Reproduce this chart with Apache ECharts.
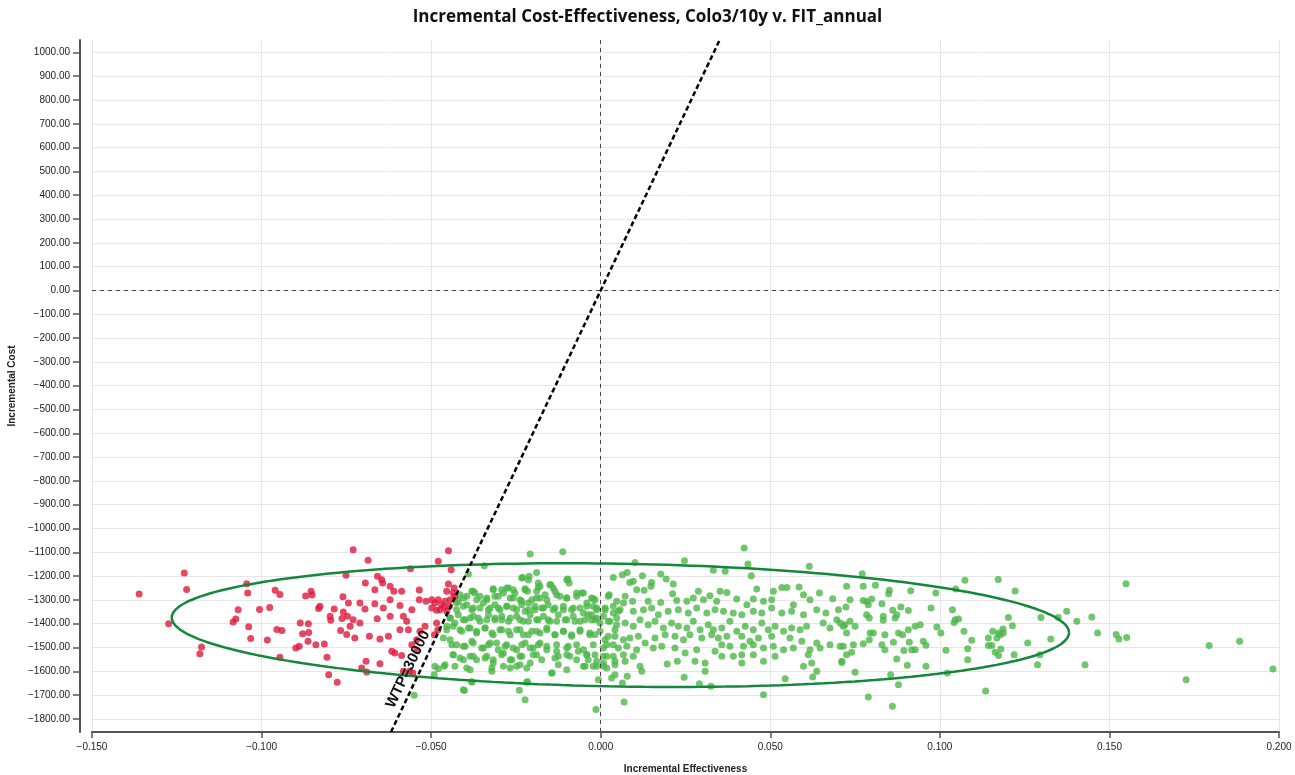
<!DOCTYPE html>
<html>
<head>
<meta charset="utf-8">
<title>Incremental Cost-Effectiveness</title>
<script src="https://cdn.jsdelivr.net/npm/echarts@6.0.0/dist/echarts.min.js"></script>
<style>
html, body { margin: 0; padding: 0; background: #fff; }
#chart { width: 1295px; height: 775px; }
</style>
</head>
<body>
<div id="chart"></div>
<script>
const titleText = 'Incremental Cost-Effectiveness, Colo3/10y v. FIT_annual'
const wtp = 30000
const xRange = [-0.15, 0.2]
const yRange = [-1855, 1052]
const yTicks = [-1800, -1700, -1600, -1500, -1400, -1300, -1200, -1100, -1000, -900, -800, -700, -600, -500, -400, -300, -200, -100, 0, 100, 200, 300, 400, 500, 600, 700, 800, 900, 1000]

// confidence ellipse: centre plus its two conjugate half-axes, in data units
const ellipseCenter = [0.0058, -1406]
const ellipseMajor = [0.1323, -31.5]
const ellipseMinor = [0, 258]

// simulations left of the WTP line
const redPoints = [
  [-0.1361,-1275],[-0.1228,-1187],[-0.1221,-1256],[-0.1274,-1400],[-0.1177,-1498],[-0.1182,-1526],[-0.1044,-1232],[-0.1041,-1271],
  [-0.1069,-1341],[-0.1076,-1380],[-0.1084,-1393],[-0.1038,-1413],[-0.1032,-1462],[-0.1006,-1340],[-0.0976,-1332],[-0.0983,-1468],
  [-0.0955,-1424],[-0.0940,-1429],[-0.0960,-1260],[-0.0946,-1277],[-0.0946,-1541],[-0.0899,-1502],[-0.0889,-1495],[-0.0886,-1397],
  [-0.0879,-1442],[-0.0862,-1400],[-0.0861,-1437],[-0.0863,-1474],[-0.0870,-1284],[-0.0854,-1264],[-0.0851,-1280],[-0.0832,-1336],
  [-0.0828,-1327],[-0.0840,-1488],[-0.0815,-1485],[-0.0807,-1541],[-0.0802,-1615],[-0.0777,-1646],[-0.0798,-1369],[-0.0796,-1386],
  [-0.0786,-1338],[-0.0760,-1287],[-0.0751,-1196],[-0.0767,-1429],[-0.0749,-1445],[-0.0759,-1351],[-0.0763,-1378],[-0.0744,-1313],
  [-0.0747,-1369],[-0.0730,-1089],[-0.0686,-1134],[-0.0449,-1094],[-0.0479,-1138],[-0.0561,-1169],[-0.0441,-1173],[-0.0658,-1201],
  [-0.0646,-1215],[-0.0643,-1229],[-0.0694,-1229],[-0.0621,-1243],[-0.0610,-1264],[-0.0666,-1257],[-0.0587,-1264],[-0.0535,-1259],
  [-0.0449,-1233],[-0.0454,-1264],[-0.0432,-1250],[-0.0710,-1313],[-0.0666,-1316],[-0.0621,-1299],[-0.0641,-1334],[-0.0695,-1338],
  [-0.0592,-1324],[-0.0557,-1341],[-0.0535,-1299],[-0.0515,-1306],[-0.0498,-1299],[-0.0489,-1313],[-0.0479,-1299],[-0.0469,-1320],
  [-0.0459,-1306],[-0.0444,-1299],[-0.0498,-1334],[-0.0484,-1344],[-0.0474,-1341],[-0.0462,-1330],[-0.0454,-1348],[-0.0446,-1327],
  [-0.0430,-1285],[-0.0435,-1271],[-0.0730,-1383],[-0.0739,-1411],[-0.0710,-1397],[-0.0659,-1379],[-0.0621,-1369],[-0.0582,-1369],
  [-0.0572,-1390],[-0.0592,-1425],[-0.0567,-1425],[-0.0533,-1432],[-0.0518,-1411],[-0.0484,-1397],[-0.0480,-1425],[-0.0725,-1460],
  [-0.0682,-1453],[-0.0651,-1464],[-0.0626,-1453],[-0.0616,-1516],[-0.0607,-1523],[-0.0587,-1534],[-0.0557,-1488],[-0.0543,-1467],
  [-0.0543,-1512],[-0.0490,-1446],[-0.0692,-1558],[-0.0651,-1568],[-0.0705,-1586],[-0.0582,-1600],[-0.0554,-1607],[-0.0690,-1603],
  [-0.0564,-1600]
]

// simulations right of the WTP line
const greenPoints = [
  [-0.0208,-1107],[-0.0112,-1098],[-0.0343,-1157],[-0.0390,-1191],[-0.0189,-1185],[-0.0230,-1206],[-0.0211,-1201],[-0.0097,-1212],
  [-0.0093,-1229],[-0.0147,-1236],[-0.0140,-1250],[-0.0179,-1243],[-0.0223,-1257],[-0.0258,-1257],[-0.0277,-1250],[-0.0317,-1257],
  [-0.0376,-1264],[-0.0395,-1285],[-0.0366,-1299],[-0.0336,-1299],[-0.0312,-1285],[-0.0287,-1271],[-0.0258,-1292],[-0.0233,-1306],
  [-0.0213,-1313],[-0.0189,-1292],[-0.0159,-1299],[-0.0130,-1278],[-0.0100,-1292],[-0.0071,-1271],[-0.0056,-1271],[-0.0041,-1313],
  [-0.0022,-1327],[-0.0420,-1306],[-0.0405,-1327],[-0.0425,-1341],[-0.0380,-1341],[-0.0356,-1334],[-0.0331,-1341],[-0.0302,-1334],
  [-0.0277,-1327],[-0.0248,-1341],[-0.0223,-1348],[-0.0194,-1341],[-0.0169,-1334],[-0.0140,-1341],[-0.0110,-1341],[-0.0081,-1334],
  [-0.0051,-1355],[-0.0027,-1362],[-0.0444,-1376],[-0.0430,-1397],[-0.0405,-1383],[-0.0385,-1376],[-0.0361,-1376],[-0.0336,-1383],
  [-0.0312,-1376],[-0.0292,-1383],[-0.0267,-1376],[-0.0238,-1383],[-0.0213,-1390],[-0.0184,-1383],[-0.0155,-1383],[-0.0130,-1390],
  [-0.0100,-1383],[-0.0076,-1390],[-0.0046,-1383],[-0.0012,-1376],[-0.0454,-1411],[-0.0415,-1425],[-0.0390,-1418],[-0.0366,-1432],
  [-0.0341,-1418],[-0.0321,-1439],[-0.0297,-1425],[-0.0272,-1432],[-0.0248,-1425],[-0.0228,-1446],[-0.0203,-1432],[-0.0179,-1439],
  [-0.0159,-1425],[-0.0135,-1446],[-0.0110,-1432],[-0.0086,-1446],[-0.0061,-1432],[-0.0032,-1439],[-0.0444,-1467],[-0.0425,-1488],
  [-0.0400,-1495],[-0.0376,-1481],[-0.0351,-1502],[-0.0331,-1488],[-0.0307,-1481],[-0.0282,-1495],[-0.0258,-1502],[-0.0233,-1488],
  [-0.0208,-1502],[-0.0184,-1488],[-0.0159,-1495],[-0.0130,-1516],[-0.0096,-1495],[-0.0066,-1516],[-0.0041,-1530],[-0.0464,-1460],
  [-0.0435,-1530],[-0.0415,-1544],[-0.0385,-1537],[-0.0366,-1551],[-0.0336,-1537],[-0.0317,-1551],[-0.0292,-1530],[-0.0262,-1551],
  [-0.0233,-1537],[-0.0199,-1530],[-0.0174,-1551],[-0.0125,-1537],[-0.0091,-1537],[-0.0037,-1551],[-0.0489,-1579],[-0.0462,-1579],
  [-0.0430,-1579],[-0.0395,-1586],[-0.0321,-1586],[-0.0287,-1579],[-0.0248,-1579],[-0.0218,-1586],[-0.0144,-1607],[-0.0100,-1593],
  [-0.0046,-1579],[-0.0012,-1579],[-0.0491,-1614],[-0.0380,-1645],[-0.0218,-1646],[-0.0402,-1681],[-0.0240,-1680],[-0.0223,-1719],
  [-0.0550,-1701],[-0.0014,-1761],[-0.0479,-1589],
  [-0.0233,-1208],[-0.0213,-1216],[-0.0100,-1215],[-0.0150,-1236],[-0.0184,-1229],[-0.0184,-1248],[-0.0380,-1264],[-0.0371,-1271],
  [-0.0317,-1253],[-0.0292,-1257],[-0.0272,-1250],[-0.0253,-1271],[-0.0223,-1253],[-0.0216,-1264],[-0.0189,-1264],[-0.0164,-1278],
  [-0.0135,-1264],[-0.0120,-1285],[-0.0100,-1292],[-0.0071,-1285],[-0.0051,-1271],[-0.0027,-1292],[-0.0017,-1299],[0.0022,-1285],
  [-0.0179,-1292],[-0.0203,-1299],[-0.0238,-1299],[-0.0267,-1292],[-0.0302,-1285],[-0.0336,-1292],[-0.0356,-1285],[-0.0405,-1292],
  [-0.0415,-1278],[-0.0425,-1313],[-0.0395,-1320],[-0.0376,-1334],[-0.0346,-1313],[-0.0326,-1334],[-0.0312,-1320],[-0.0297,-1341],
  [-0.0277,-1327],[-0.0258,-1334],[-0.0233,-1320],[-0.0213,-1341],[-0.0194,-1327],[-0.0174,-1334],[-0.0155,-1320],[-0.0135,-1334],
  [-0.0110,-1327],[-0.0086,-1341],[-0.0061,-1334],[-0.0041,-1327],[-0.0012,-1341],[0.0013,-1334],[0.0037,-1327],[0.0052,-1348],
  [-0.0444,-1376],[-0.0420,-1362],[-0.0400,-1383],[-0.0376,-1369],[-0.0356,-1390],[-0.0331,-1362],[-0.0312,-1383],[-0.0292,-1369],
  [-0.0272,-1390],[-0.0248,-1369],[-0.0228,-1390],[-0.0208,-1362],[-0.0189,-1383],[-0.0169,-1369],[-0.0150,-1390],[-0.0125,-1362],
  [-0.0105,-1383],[-0.0081,-1369],[-0.0061,-1390],[-0.0037,-1362],[-0.0017,-1383],[0.0008,-1369],[0.0027,-1390],[0.0047,-1376],
  [-0.0454,-1425],[-0.0435,-1411],[-0.0410,-1432],[-0.0385,-1418],[-0.0366,-1439],[-0.0341,-1418],[-0.0317,-1446],[-0.0292,-1425],
  [-0.0267,-1446],[-0.0238,-1425],[-0.0213,-1446],[-0.0189,-1432],[-0.0159,-1418],[-0.0135,-1446],[-0.0110,-1432],[-0.0086,-1453],
  [-0.0061,-1425],[-0.0032,-1446],[-0.0002,-1432],[0.0022,-1453],[0.0042,-1425],
  [-0.0439,-1488],[-0.0405,-1495],[-0.0380,-1474],[-0.0346,-1502],[-0.0326,-1481],[-0.0302,-1509],[-0.0277,-1488],[-0.0248,-1509],
  [-0.0223,-1481],[-0.0199,-1502],[-0.0179,-1481],[-0.0159,-1509],[-0.0130,-1488],[-0.0100,-1502],[-0.0071,-1488],[-0.0051,-1509],
  [-0.0022,-1488],[0.0008,-1502],[0.0037,-1488],
  [-0.0435,-1530],[-0.0405,-1551],[-0.0376,-1537],[-0.0341,-1544],[-0.0317,-1565],[-0.0287,-1523],[-0.0267,-1551],[-0.0238,-1537],
  [-0.0208,-1565],[-0.0189,-1530],[-0.0135,-1544],[-0.0100,-1530],[-0.0071,-1551],[-0.0041,-1530],[-0.0012,-1558],[0.0018,-1537],
  [0.0042,-1558],[-0.0459,-1572],[-0.0385,-1593],[-0.0321,-1600],[-0.0267,-1586],[-0.0238,-1572],[-0.0144,-1607],[-0.0125,-1572],
  [-0.0051,-1579],[0.0008,-1565],[0.0018,-1586],[0.0042,-1614],[-0.0007,-1635],[-0.0380,-1644],[-0.0216,-1644],[-0.0405,-1677],
  [0.0423,-1082],[0.0247,-1136],[0.0101,-1143],[0.0434,-1149],[0.0615,-1159],[0.0332,-1176],[0.0367,-1180],[0.0444,-1199],
  [0.0064,-1194],[0.0078,-1185],[0.0037,-1206],[0.0123,-1199],[0.0177,-1191],[0.0193,-1212],[0.0086,-1227],[0.0096,-1222],
  [0.0150,-1227],[0.0214,-1233],[0.0106,-1257],[0.0128,-1260],[0.0148,-1243],[0.0212,-1274],[0.0288,-1264],[0.0322,-1283],
  [0.0352,-1264],[0.0372,-1269],[0.0460,-1254],[0.0509,-1264],[0.0534,-1248],[0.0549,-1248],[0.0585,-1246],[0.0598,-1278],
  [0.0645,-1271],[0.0617,-1299],[0.0684,-1295],[0.0725,-1243],[-0.0022,-1295],[0.0025,-1278],[0.0047,-1306],[0.0072,-1285],
  [0.0067,-1313],[0.0094,-1306],[0.0140,-1306],[0.0177,-1311],[0.0224,-1303],[0.0254,-1306],[0.0273,-1292],[0.0303,-1299],
  [0.0342,-1306],[0.0401,-1296],[0.0431,-1320],[0.0450,-1296],[0.0480,-1306],[0.0504,-1299],[0.0568,-1320],[0.0637,-1341],
  [0.0664,-1355],[-0.0012,-1334],[0.0013,-1341],[0.0037,-1355],[0.0057,-1341],[0.0096,-1348],[0.0126,-1341],[0.0150,-1334],
  [0.0170,-1362],[0.0199,-1348],[0.0229,-1341],[0.0258,-1355],[0.0283,-1334],[0.0313,-1355],[0.0337,-1341],[0.0362,-1348],
  [0.0391,-1355],[0.0416,-1362],[0.0450,-1348],[0.0475,-1355],[0.0504,-1334],[0.0534,-1355],[0.0563,-1348],[0.0598,-1362],
  [0.0701,-1341],[-0.0027,-1383],[-0.0002,-1397],[0.0022,-1390],[0.0047,-1404],[0.0072,-1397],[0.0096,-1411],[0.0116,-1383],
  [0.0140,-1404],[0.0160,-1390],[0.0185,-1418],[0.0209,-1397],[0.0229,-1411],[0.0254,-1418],[0.0273,-1390],[0.0293,-1425],
  [0.0317,-1404],[0.0332,-1425],[0.0357,-1418],[0.0381,-1390],[0.0401,-1432],[0.0426,-1411],[0.0450,-1425],[0.0475,-1397],
  [0.0494,-1425],[0.0514,-1411],[0.0539,-1432],[0.0563,-1418],[0.0588,-1425],[0.0607,-1411],[0.0656,-1397],[0.0676,-1418],
  [0.0696,-1383],[0.0720,-1404],[-0.0017,-1446],[0.0013,-1467],[0.0042,-1453],[0.0067,-1467],[0.0086,-1460],[0.0111,-1453],
  [0.0131,-1481],[0.0160,-1460],[0.0190,-1446],[0.0219,-1453],[0.0244,-1467],[0.0263,-1446],[0.0298,-1460],[0.0327,-1446],
  [0.0347,-1460],[0.0372,-1453],[0.0416,-1453],[0.0440,-1474],[0.0465,-1460],[0.0504,-1453],[0.0558,-1460],[0.0593,-1474],
  [0.0637,-1481],[0.0676,-1488],[0.0706,-1495],[0.0018,-1488],[0.0052,-1502],[0.0077,-1495],[0.0106,-1509],[0.0155,-1502],
  [0.0180,-1495],[0.0219,-1502],[0.0249,-1523],[0.0283,-1509],[0.0337,-1516],[0.0357,-1488],[0.0381,-1495],[0.0421,-1495],
  [0.0450,-1488],[0.0480,-1502],[0.0509,-1495],[0.0539,-1509],[0.0568,-1502],[0.0617,-1509],[0.0647,-1502],[-0.0017,-1530],
  [0.0008,-1537],[0.0037,-1537],[0.0067,-1530],[0.0096,-1537],[0.0357,-1537],[0.0391,-1537],[0.0416,-1530],[0.0450,-1530],
  [0.0480,-1558],[0.0514,-1537],[0.0612,-1530],[-0.0022,-1579],[0.0008,-1579],[0.0042,-1572],[0.0072,-1558],[0.0116,-1579],
  [0.0121,-1600],[0.0196,-1569],[0.0226,-1558],[0.0278,-1558],[0.0308,-1565],[0.0308,-1600],[0.0416,-1565],[0.0598,-1579],
  [0.0622,-1565],[0.0637,-1600],[0.0711,-1558],[0.0032,-1628],[0.0064,-1649],[0.0078,-1621],[0.0246,-1625],[0.0291,-1652],
  [0.0325,-1663],[0.0544,-1631],[0.0625,-1624],[0.0480,-1698],[0.0069,-1729],
  [0.0771,-1190],[0.0774,-1243],[0.0810,-1238],[0.0851,-1260],[0.0849,-1274],[0.0914,-1262],[0.0988,-1271],[0.1047,-1254],
  [0.1074,-1218],[0.1172,-1214],[0.1222,-1263],[0.0735,-1299],[0.0723,-1330],[0.0774,-1303],[0.0784,-1306],[0.0799,-1296],
  [0.0789,-1320],[0.0829,-1316],[0.0885,-1330],[0.0861,-1344],[0.0907,-1345],[0.0974,-1334],[0.1037,-1341],[0.0784,-1362],
  [0.0792,-1376],[0.0833,-1369],[0.0833,-1386],[0.0868,-1376],[0.0873,-1362],[0.1045,-1383],[0.1055,-1380],[0.1042,-1395],
  [0.1202,-1374],[0.1214,-1409],[0.1298,-1374],[0.1349,-1374],[0.1404,-1390],[0.1374,-1348],[0.1448,-1372],[0.1465,-1439],
  [0.0706,-1397],[0.0715,-1411],[0.0735,-1390],[0.0750,-1411],[0.0725,-1439],[0.0794,-1439],[0.0804,-1439],[0.0792,-1467],
  [0.0838,-1446],[0.0878,-1439],[0.0890,-1446],[0.0907,-1425],[0.0927,-1411],[0.0942,-1404],[0.0991,-1414],[0.1003,-1439],
  [0.1071,-1432],[0.1094,-1470],[0.1143,-1460],[0.1168,-1460],[0.1178,-1446],[0.1187,-1439],[0.1173,-1439],[0.1186,-1422],
  [0.1156,-1432],[0.1259,-1481],[0.1327,-1464],[0.1428,-1572],[0.0715,-1495],[0.0745,-1488],[0.0740,-1520],[0.0725,-1530],
  [0.0774,-1484],[0.0829,-1488],[0.0838,-1509],[0.0863,-1478],[0.0894,-1513],[0.0910,-1478],[0.0917,-1509],[0.0927,-1509],
  [0.0951,-1474],[0.0959,-1491],[0.1018,-1512],[0.1082,-1505],[0.1082,-1551],[0.1143,-1492],[0.1153,-1492],[0.1163,-1520],
  [0.1173,-1534],[0.1180,-1506],[0.1219,-1531],[0.1295,-1530],[0.1288,-1572],[0.0711,-1563],[0.0873,-1548],[0.0904,-1575],
  [0.0959,-1579],[0.0750,-1604],[0.0855,-1614],[0.1022,-1607],[0.0878,-1656],[0.0789,-1708],[0.0860,-1747],[0.1135,-1683],
  [0.1549,-1232],[0.1520,-1445],[0.1528,-1464],[0.1551,-1458],[0.1726,-1636],[0.1794,-1492],[0.1884,-1474],[0.1982,-1590]
]

const fontUI = '"Liberation Sans", Arial, sans-serif'
const fontTitle = '"Open Sans", "DejaVu Sans", sans-serif'

function minus(s) {
  return s.replace('-', '\u2212')
}

function ellipsePath() {
  const pts = []
  const n = 240
  for (let i = 0; i <= n; i++) {
    const t = i / n * Math.PI * 2
    const c = Math.cos(t), s = Math.sin(t)
    pts.push([
      ellipseCenter[0] + ellipseMajor[0] * c + ellipseMinor[0] * s,
      ellipseCenter[1] + ellipseMajor[1] * c + ellipseMinor[1] * s
    ])
  }
  return pts
}

const chart = echarts.init(document.getElementById('chart'))

chart.setOption({
  animation: false,
  backgroundColor: '#fff',
  title: {
    text: titleText,
    left: 'center',
    top: 4,
    textStyle: { fontFamily: fontTitle, fontSize: 17, fontWeight: 'bold', color: '#111' }
  },
  grid: { left: 92, right: 16, top: 40, bottom: 43, outerBoundsMode: 'none' },
  xAxis: {
    type: 'value',
    min: xRange[0],
    max: xRange[1],
    interval: 0.05,
    name: 'Incremental Effectiveness',
    nameLocation: 'middle',
    nameGap: 32,
    nameTextStyle: { fontFamily: fontUI, fontSize: 10, fontWeight: 'bold', color: '#222' },
    axisLine: { onZero: false, lineStyle: { color: '#555', width: 2 } },
    axisTick: { length: 6, lineStyle: { color: '#555', width: 1.5 } },
    axisLabel: { margin: 10, fontFamily: fontUI, fontSize: 10, color: '#222', formatter: v => minus(v.toFixed(3)) },
    splitLine: { lineStyle: { color: '#e6e6e6', width: 1 } }
  },
  yAxis: {
    type: 'value',
    min: yRange[0],
    max: yRange[1],
    offset: 12,
    name: 'Incremental Cost',
    nameLocation: 'middle',
    nameGap: 63,
    nameTextStyle: { fontFamily: fontUI, fontSize: 10, fontWeight: 'bold', color: '#222' },
    axisLine: { onZero: false, lineStyle: { color: '#555', width: 2 } },
    axisTick: { customValues: yTicks, length: 7, lineStyle: { color: '#555', width: 1.5 } },
    axisLabel: { customValues: yTicks, margin: 10, fontFamily: fontUI, fontSize: 10, color: '#222', formatter: v => minus(v.toFixed(2)) },
    splitLine: { lineStyle: { color: '#e6e6e6', width: 1 } }
  },
  series: [
    {
      name: 'Cost-effective',
      type: 'scatter',
      data: greenPoints,
      symbolSize: 7,
      itemStyle: { color: '#4cb748' },
      z: 2
    },
    {
      name: 'Not cost-effective',
      type: 'scatter',
      data: redPoints,
      symbolSize: 7,
      itemStyle: { color: '#e0193c' },
      z: 2,
      markLine: {
        silent: true,
        symbol: ['none', 'none'],
        label: { show: false },
        lineStyle: { type: [4, 4], color: '#444', width: 1 },
        data: [
          { xAxis: 0 },
          { yAxis: 0 },
          [
            {
              coord: [yRange[0] / wtp, yRange[0]],
              lineStyle: { type: [5, 3], color: '#000', width: 2.5 },
              label: {
                show: true,
                formatter: 'WTP=' + wtp,
                position: 'insideStartTop',
                distance: [22, 4],
                fontFamily: fontUI,
                fontSize: 15,
                fontWeight: 'bold',
                color: '#111'
              }
            },
            { coord: [yRange[1] / wtp, yRange[1]] }
          ]
        ]
      }
    },
    {
      name: 'Ellipse',
      type: 'line',
      data: ellipsePath(),
      showSymbol: false,
      smooth: false,
      silent: true,
      lineStyle: { color: '#13873a', width: 2.5 },
      z: 3
    }
  ]
})
</script>
</body>
</html>
